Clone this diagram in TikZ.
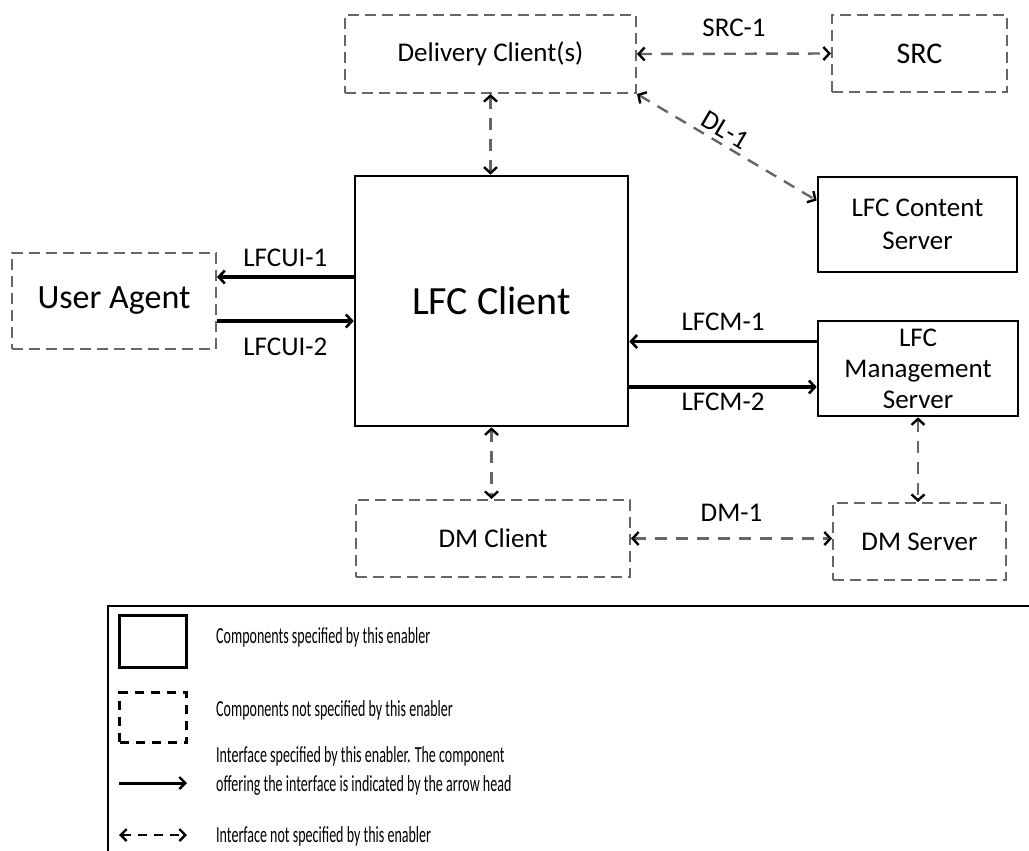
\documentclass[tikz,border=0pt]{standalone}
\usepackage{fontspec}
\setmainfont{Carlito}
\newfontfamily\legendfont[FakeStretch=0.61]{Carlito}
\usetikzlibrary{calc,arrows.meta}

\begin{document}
\begin{tikzpicture}[
x=1pt, y=-1pt,
spec/.style={
	draw, line width=2.6pt, rectangle,
	inner sep=0pt, align=center, font=\fontsize{27}{31}\selectfont
},
nspec/.style={
	draw=black!60, line width=2pt, rectangle,
	dash pattern=on 11pt off 6pt,
	inner sep=0pt, align=center, font=\fontsize{27}{31}\selectfont
},
iface/.style={line width=3.4pt, -{Straight Barb[length=6pt,width=13pt,line width=2.6pt]}},
niface/.style={draw=black!60, line width=2.4pt, dash pattern=on 12pt off 9pt,
	{Straight Barb[length=6pt,width=13pt,line width=2.4pt,black]}-{Straight Barb[length=6pt,width=13pt,line width=2.4pt,black]}},
lbl/.style={font=\fontsize{27}{30}\selectfont, inner sep=0pt},
key/.style={font=\legendfont\fontsize{23}{29}\selectfont, anchor=west, align=left, inner sep=0pt}
]
\useasboundingbox (0,0) rectangle (1029,851);

% components
\node[nspec, minimum width=291pt, minimum height=78pt] (dcl) at (490.5,54) {Delivery Client(s)};
\node[nspec, minimum width=175pt, minimum height=77pt, font=\fontsize{30}{33}\selectfont] (src) at (919.5,53.5) {SRC};
\node[spec, minimum width=199pt, minimum height=95pt] (lcs) at (917.5,224.5) {LFC Content\\[2pt]Server};
\node[spec, minimum width=273pt, minimum height=250pt, font=\fontsize{40}{44}\selectfont] (lfc) at (491.5,301) {LFC Client};
\node[nspec, minimum width=204pt, minimum height=96pt, font=\fontsize{34}{38}\selectfont] (ua) at (114,301) {User Agent};
\node[spec, minimum width=200pt, minimum height=95pt] (lms) at (918,368.5) {LFC\\Management\\Server};
\node[nspec, minimum width=274pt, minimum height=77pt] (dmc) at (493,538.5) {DM Client};
\node[nspec, minimum width=173pt, minimum height=77pt] (dms) at (919.5,541.5) {DM Server};

% interfaces
\draw[iface] ([yshift=24pt]lfc.west) -- ([yshift=24pt]lfc.west -| ua.east)
	node[lbl, midway, above=9pt] (lfcui1) {LFCUI-1};
\draw[iface] ([yshift=-20pt]ua.east) -- ([yshift=-20pt]ua.east -| lfc.west)
	node[lbl, midway, below=15pt] (lfcui2) {LFCUI-2};
\draw[iface] ([yshift=27pt]lms.west) -- ([yshift=27pt]lms.west -| lfc.east)
	node[lbl, midway, above=9pt] (lfcm1) {LFCM-1};
\draw[iface] ([yshift=-18.5pt]lms.west -| lfc.east) -- ([yshift=-18.5pt]lms.west)
	node[lbl, midway, below=4pt] (lfcm2) {LFCM-2};

\draw[niface] (dcl.east) -- (src.west) node[lbl, midway, above=16pt] (src1) {SRC-1};
\draw[niface] (dcl.south east) -- ([yshift=24pt]lcs.west)
	node[lbl, sloped, above=4pt, pos=0.45] (dl1) {DL-1};
\draw[niface] (dcl.south) -- (dcl.south |- lfc.north);
\draw[niface] (lfc.south) -- (lfc.south |- dmc.north);
\draw[niface] (lms.south) -- (lms.south |- dms.north);
\draw[niface] (dmc.east) -- (dmc.east -| dms.west) node[lbl, midway, above=16pt] (dm1) {DM-1};

% legend
\coordinate (lgtl) at (108,606);
\draw[line width=1.2pt] (1029,606) -- (lgtl) -- (108,851);
\node[draw, line width=3pt, minimum width=67pt, minimum height=52pt] (k1) at (153,641.5) {};
\node[draw, line width=2.4pt, dash pattern=on 9pt off 7pt, minimum width=67pt, minimum height=50pt] (k2) at (153,717.5) {};
\coordinate (k3a) at (119,783);
\coordinate (k3b) at (187,783);
\coordinate (k4a) at (119,835);
\coordinate (k4b) at (187,835);
\draw[line width=3pt, -{Straight Barb[length=6pt,width=12pt,line width=2.4pt]}] (k3a) -- (k3b);
\draw[line width=2.6pt, dash pattern=on 9pt off 7pt,
	{Straight Barb[length=6pt,width=12pt,line width=2.4pt]}-{Straight Barb[length=6pt,width=12pt,line width=2.4pt]}] (k4a) -- (k4b);
\node[key] (t1) at (216,637) {Components specified by this enabler};
\node[key] (t2) at (216,710) {Components not specified by this enabler};
\node[key] (t3) at (216,771) {Interface specified by this enabler. The component\\offering the interface is indicated by the arrow head};
\node[key] (t4) at (216,836) {Interface not specified by this enabler};
\end{tikzpicture}
\end{document}
